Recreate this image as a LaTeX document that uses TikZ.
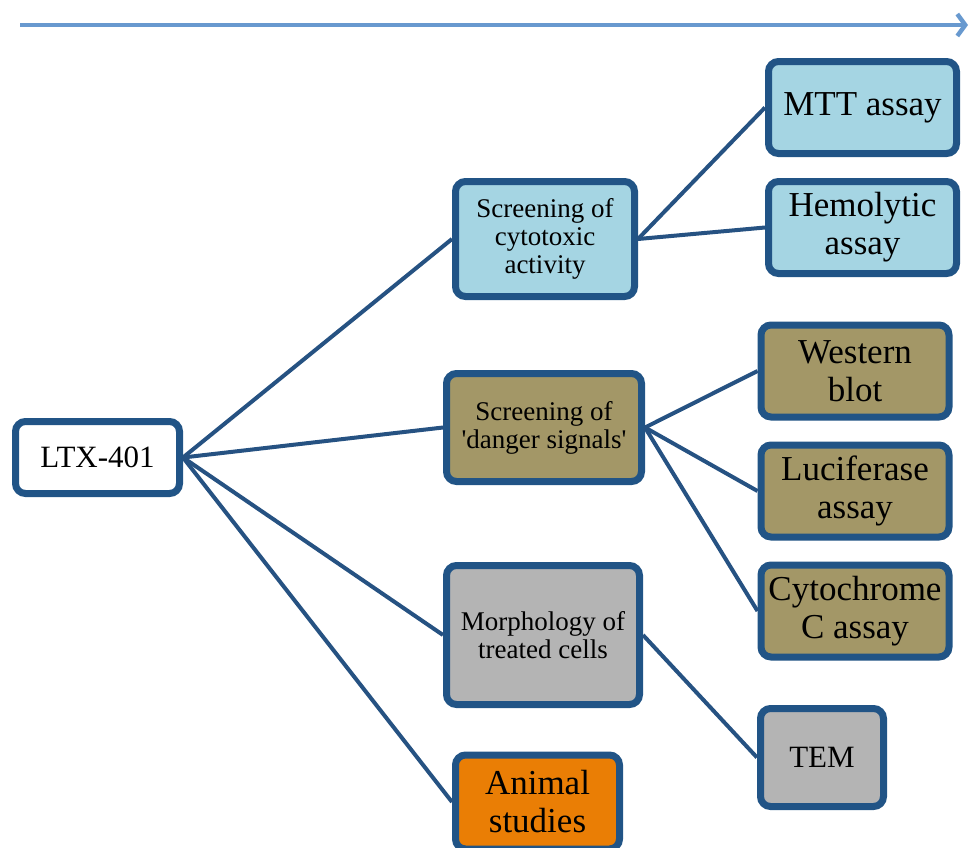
\documentclass[tikz,border=0pt]{standalone}
\usepackage{fontspec}
\setmainfont{Liberation Serif}
\usetikzlibrary{arrows.meta,positioning,shadows}
\definecolor{EdgeBlue}{RGB}{33,84,134}
\definecolor{LineBlue}{RGB}{38,82,130}
\definecolor{TimeBlue}{RGB}{104,153,207}
\definecolor{CyanBox}{RGB}{165,213,227}
\definecolor{OliveBox}{RGB}{163,151,103}
\definecolor{GreyBox}{RGB}{180,180,180}
\definecolor{OrangeBox}{RGB}{234,126,5}

\begin{document}
\begin{tikzpicture}[
    x=0.5pt,y=-0.5pt,node distance=10.5pt,
    box/.style={
      draw=EdgeBlue,line width=3.5pt,rounded corners=5pt,align=center,
      inner sep=2pt,
      drop shadow={shadow xshift=1pt,shadow yshift=-1.5pt,opacity=0.3}
    },
    bigbox/.style={box,minimum width=94pt,minimum height=46pt,
      font=\fontsize{17.5}{19}\selectfont},
    midbox/.style={box,font=\fontsize{15.5}{17}\selectfont},
    smallbox/.style={box,font=\fontsize{13.5}{14}\selectfont},
    link/.style={LineBlue,line width=2pt}]
    \useasboundingbox (0,0) rectangle (970,847);
    % time axis
    \coordinate (tstart) at (20,25);
    \coordinate (tend) at (968,25);
    \draw[TimeBlue,line width=2.2pt,-{Straight Barb[length=4pt,width=11pt]}]
      (tstart) -- (tend);
    % root and first level
    \node[midbox,fill=white,minimum width=82pt,minimum height=36pt] (ltx)
      at (97.5,457.5) {LTX-401};
    \node[smallbox,fill=CyanBox,minimum width=89.5pt,minimum height=57.5pt]
      (cyto) at (545,239) {Screening of\\cytotoxic\\activity};
    \node[smallbox,fill=OliveBox,minimum width=97.5pt,minimum height=54pt]
      (danger) at (544,427.5)
      {Screening of\\\textquotesingle danger signals\textquotesingle};
    \node[smallbox,fill=GreyBox,minimum width=96.5pt,minimum height=69.5pt]
      (morph) at (543,635) {Morphology of\\treated cells};
    \node[bigbox,fill=OrangeBox,minimum width=82pt,minimum height=47pt]
      (animal) at (537.5,802) {Animal\\studies};
    % second level
    \node[bigbox,fill=CyanBox] (mtt) at (862.5,107.5) {MTT assay};
    \node[bigbox,fill=CyanBox,below=of mtt] (hemo) {Hemolytic\\assay};
    \node[bigbox,fill=OliveBox] (western) at (855,371) {Western\\blot};
    \node[bigbox,fill=OliveBox,below=of western] (luci) {Luciferase\\assay};
    \node[bigbox,fill=OliveBox,below=of luci] (cytc) {Cytochrome\\C assay};
    \node[midbox,fill=GreyBox,minimum width=61.5pt,minimum height=49pt]
      (tem) at (822,757.5) {TEM};
    % connectors
    \draw[link] (ltx.east) -- (cyto.west);
    \draw[link] (ltx.east) -- (danger.west);
    \draw[link] (ltx.east) -- (morph.west);
    \draw[link] (ltx.east) -- (animal.west);
    \draw[link] (cyto.east) -- (mtt.west);
    \draw[link] (cyto.east) -- (hemo.west);
    \draw[link] (danger.east) -- (western.west);
    \draw[link] (danger.east) -- (luci.west);
    \draw[link] (danger.east) -- (cytc.west);
    \draw[link] (morph.east) -- (tem.west);
  \end{tikzpicture}
\end{document}
